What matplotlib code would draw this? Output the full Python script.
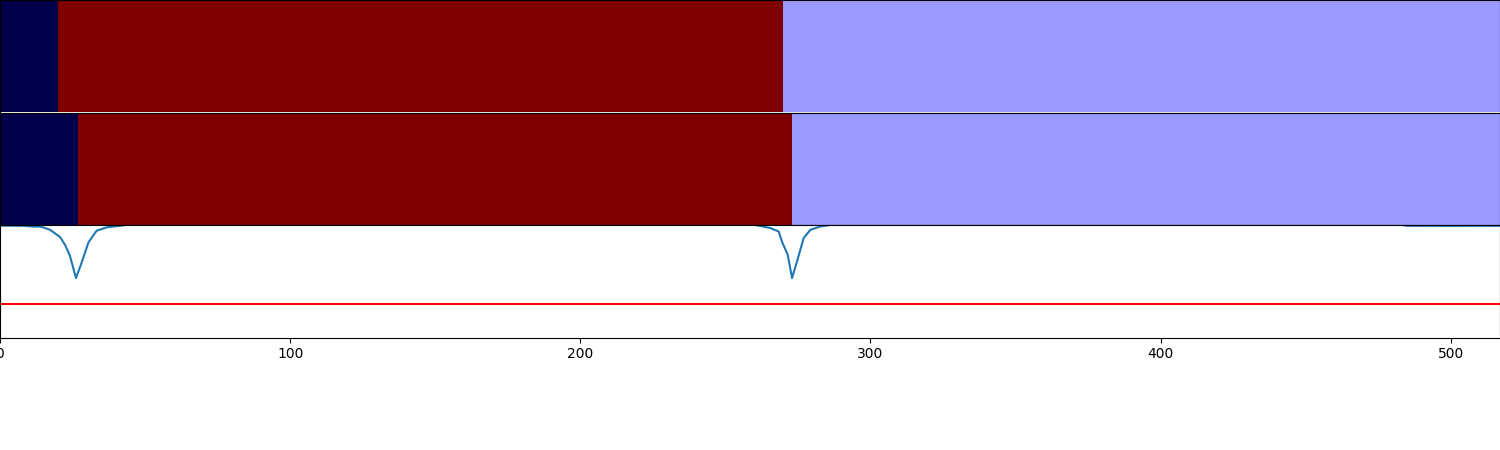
import numpy as np
import matplotlib.pyplot as plt

n_frames = 517

# segment boundaries (frame index) and colour values for the two label rows
top_bounds = [0, 20, 270, 517]
top_values = [0.0, 1.0, 0.4]
mid_bounds = [0, 27, 273, 517]
mid_values = [0.0, 1.0, 0.4]

# score curve
curve_x = [0, 8, 11.5, 14, 17.2, 20.7, 22.5, 24.1, 26.2, 28.2, 30.5, 33.3, 36.8, 43.7, 50,
           150, 255, 260.3, 265.5, 268.4, 269.5, 271.5, 273.0, 274.7, 277.0, 279.3, 282.8,
           286.2, 292, 400, 480, 485, 500, 517]
curve_y = [0.994, 0.993, 0.985, 0.986, 0.958, 0.893, 0.82, 0.726, 0.528, 0.67, 0.846, 0.949,
           0.979, 1.0, 1.02, 1.02, 1.01, 1.0, 0.973, 0.942, 0.853, 0.735, 0.528, 0.676, 0.884,
           0.957, 0.987, 1.0, 1.02, 1.02, 1.01, 0.993, 0.992, 0.993]
threshold = 0.3


def seg_row(bounds, values):
    row = np.zeros(n_frames)
    for a, b, v in zip(bounds[:-1], bounds[1:], values):
        row[a:b] = v
    return row[None, :]


fig = plt.figure(figsize=(15, 4.5), dpi=100)
ax1 = fig.add_axes([0, 0.75, 1, 0.25])
ax2 = fig.add_axes([0, 0.5, 1, 0.25], sharex=ax1)
ax3 = fig.add_axes([0, 0.25, 1, 0.25], sharex=ax1)

for ax, b, v in [(ax1, top_bounds, top_values), (ax2, mid_bounds, mid_values)]:
    ax.imshow(seg_row(b, v), aspect='auto', cmap='seismic', vmin=0, vmax=1,
              interpolation='nearest', extent=[0, n_frames, 0, 1])
    ax.set_xticks([])
    ax.set_yticks([])
    ax.tick_params(labelbottom=False)

ax3.plot(curve_x, curve_y)
ax3.axhline(threshold, color='r')
ax3.set_ylim(0, 1)
ax3.set_xlim(0, n_frames)
ax3.set_xticks([0, 100, 200, 300, 400, 500])

plt.savefig("out.png", dpi=100)
